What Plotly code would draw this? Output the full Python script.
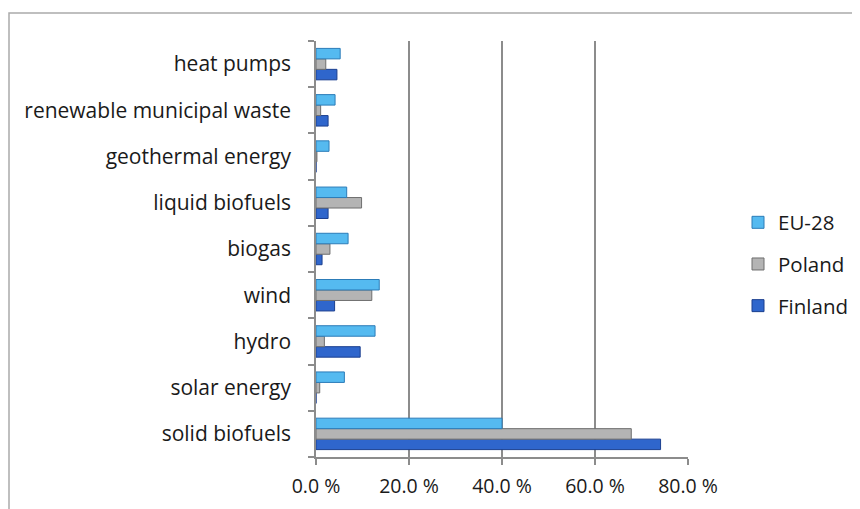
import plotly.graph_objects as go

categories = ["solid biofuels", "solar energy", "hydro", "wind", "biogas",
              "liquid biofuels", "geothermal energy", "renewable municipal waste", "heat pumps"]
finland = [74.1, 0.0, 9.5, 4.0, 1.3, 2.6, 0.0, 2.6, 4.5]
poland = [67.8, 0.8, 1.8, 12.0, 3.0, 9.8, 0.2, 1.0, 2.1]
eu28 = [40.0, 6.1, 12.7, 13.6, 6.9, 6.6, 2.8, 4.1, 5.2]
x_ticks = [0, 20, 40, 60, 80]
x_tick_labels = ["0.0 %", "20.0 %", "40.0 %", "60.0 %", "80.0 %"]

fig = go.Figure()
fig.add_trace(go.Bar(y=categories, x=finland, name="Finland", orientation="h",
                     legendgroup="fi", legendrank=3,
                     marker=dict(color="#2F66CC", line=dict(color="#1B3F8F", width=1))))
fig.add_trace(go.Bar(y=categories, x=poland, name="Poland", orientation="h",
                     legendgroup="pl", legendrank=2,
                     marker=dict(color="#B4B4B4", line=dict(color="#6E6E6E", width=1))))
fig.add_trace(go.Bar(y=categories, x=eu28, name="EU-28", orientation="h",
                     legendgroup="eu", legendrank=1,
                     marker=dict(color="#55BAF0", line=dict(color="#2C7CB8", width=1))))

# page body has an 8px margin; figure coordinates are page coordinates minus 8
W, H = 852, 501
L, T = 308, 33
pw, ph = 372, 416
R, B = W - L - pw, H - T - ph

fig.update_layout(
    width=W, height=H,
    margin=dict(l=L, r=R, t=T, b=B, autoexpand=False),
    paper_bgcolor="white", plot_bgcolor="white",
    barmode="group", bargap=0.32, bargroupgap=0.0,
    font=dict(family="Open Sans, sans-serif", size=21, color="#1A1A1A"),
    legend=dict(traceorder="grouped", x=(730 - L) / pw, y=1 - (256 - T) / ph,
                xanchor="left", yanchor="middle",
                font=dict(size=20.5), itemwidth=30, tracegroupgap=12, bgcolor="rgba(0,0,0,0)"),
    xaxis=dict(range=[0, 80], tickvals=x_ticks, ticktext=x_tick_labels,
               tickfont=dict(size=19.5),
               showgrid=True, gridcolor="#8C8C8C", gridwidth=1.5,
               showline=True, linecolor="#8C8C8C", linewidth=1.5,
               ticks="outside", ticklen=6, tickcolor="#8C8C8C", tickwidth=1.5,
               ticklabelstandoff=5, zeroline=False, fixedrange=True),
    yaxis=dict(categoryorder="array", categoryarray=categories,
               showline=True, linecolor="#8C8C8C", linewidth=1.5,
               ticks="outside", tickson="boundaries", ticklen=6, tickcolor="#8C8C8C", tickwidth=1.5,
               ticklabelstandoff=19, showgrid=False, fixedrange=True),
    shapes=[dict(type="rect", xref="paper", yref="paper",
                 x0=(1 - L) / pw, x1=(W + 5 - L) / pw,
                 y0=-(H + 5 - T - ph) / ph, y1=1 + (T - 5) / ph,
                 line=dict(color="#AAAAAA", width=1.5), fillcolor="rgba(0,0,0,0)", layer="below")],
)
fig.write_html("out.html")
